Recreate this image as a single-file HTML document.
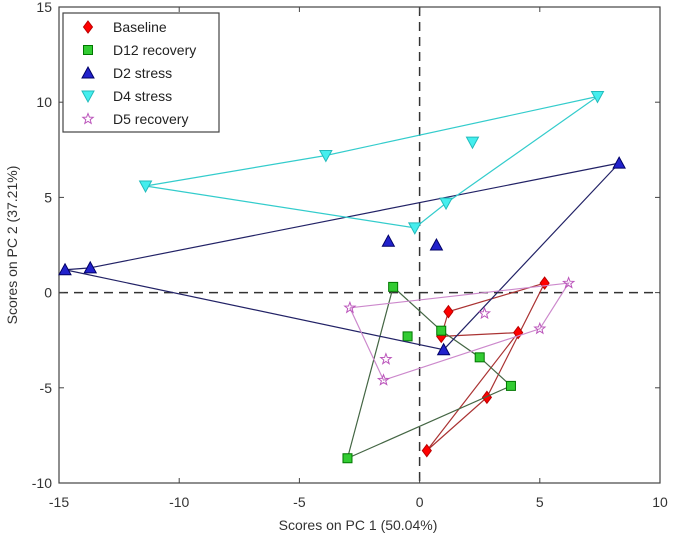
<!DOCTYPE html>
<html><head><meta charset="utf-8"><style>
body{margin:0;background:#fff;}
svg{display:block;font-family:"Liberation Sans",sans-serif;}
</style></head><body>
<svg id="chart" width="675" height="545"></svg>
<script>
const xTicks=[-15,-10,-5,0,5,10];
const yTicks=[-10,-5,0,5,10,15];
const seriesNames=["Baseline","D12 recovery","D2 stress","D4 stress","D5 recovery"];
const baselineX=[0.9,1.2,5.2,2.8,0.3,4.1];
const baselineY=[-2.3,-1.0,0.5,-5.5,-8.3,-2.1];
const d12X=[-3.0,-1.1,0.9,2.5,3.8,-0.5];
const d12Y=[-8.7,0.3,-2.0,-3.4,-4.9,-2.3];
const d2X=[-13.7,8.3,1.0,-14.75,-1.3,0.7];
const d2Y=[1.3,6.8,-3.0,1.2,2.7,2.5];
const d4X=[-11.4,-3.9,7.4,1.1,-0.2,2.2];
const d4Y=[5.6,7.2,10.3,4.7,3.4,7.9];
const d5X=[-2.9,-1.5,5.0,6.2,2.7,-1.4];
const d5Y=[-0.8,-4.6,-1.9,0.5,-1.1,-3.5];

const L=59,R=660,T=7,B=483;
const sx=v=>L+(v+15)*(R-L)/25;
const sy=v=>B-(v+10)*(B-T)/25;
const svg=document.getElementById('chart');
const NS='http://www.w3.org/2000/svg';
function mk(tag,attrs,parent){const e=document.createElementNS(NS,tag);for(const k in attrs)e.setAttribute(k,attrs[k]);(parent||svg).appendChild(e);return e;}

let zl=mk('line',{x1:L,x2:R,y1:sy(0),y2:sy(0),stroke:'#333','stroke-width':1.5,'stroke-dasharray':'9,6'});


zl=mk('line',{x1:sx(0),x2:sx(0),y1:T,y2:B,stroke:'#333','stroke-width':1.5,'stroke-dasharray':'9,6'});



let fr=mk('rect',{x:L,y:T,width:R-L,height:B-T,fill:'none',stroke:'#444','stroke-width':1.2});



xTicks.forEach(v=>{
  mk('line',{x1:sx(v),x2:sx(v),y1:B,y2:B-5,stroke:'#444'});
  mk('line',{x1:sx(v),x2:sx(v),y1:T,y2:T+5,stroke:'#444'});
  const t=mk('text',{x:sx(v),y:507,'text-anchor':'middle','font-size':14,fill:'#333'});
  t.textContent=v;
  
  
});
yTicks.forEach(v=>{
  mk('line',{x1:L,x2:L+5,y1:sy(v),y2:sy(v),stroke:'#444'});
  mk('line',{x1:R,x2:R-5,y1:sy(v),y2:sy(v),stroke:'#444'});
  const t=mk('text',{x:52,y:sy(v)+5,'text-anchor':'end','font-size':14,fill:'#333'});
  t.textContent=v;
  
  
});
let xt=mk('text',{x:358,y:530,'text-anchor':'middle','font-size':14,fill:'#333'});
xt.textContent='Scores on PC 1 (50.04%)';


let yt=mk('text',{x:0,y:0,'text-anchor':'middle','font-size':14,fill:'#333',transform:'translate(17,245) rotate(-90)'});
yt.textContent='Scores on PC 2 (37.21%)';



function marker(type,x,y,g){
  if(type==='diamond')mk('polygon',{points:`${x},${y-6} ${x+4.5},${y} ${x},${y+6} ${x-4.5},${y}`,fill:'#f00',stroke:'#b00'},g);
  else if(type==='square')mk('rect',{x:x-4.5,y:y-4.5,width:9,height:9,fill:'#3c3',stroke:'#070'},g);
  else if(type==='up')mk('polygon',{points:`${x},${y-6} ${x+6},${y+5} ${x-6},${y+5}`,fill:'#22c',stroke:'#006'},g);
  else if(type==='down')mk('polygon',{points:`${x-6},${y-5} ${x+6},${y-5} ${x},${y+6}`,fill:'#4ee',stroke:'#2bb'},g);
  else{let p=[];for(let i=0;i<10;i++){const r=i%2?2.3:5.5,a=-Math.PI/2+i*Math.PI/5;p.push((x+r*Math.cos(a)).toFixed(1)+','+(y+r*Math.sin(a)).toFixed(1));}
    mk('polygon',{points:p.join(' '),fill:'none',stroke:'#b5b'},g);}
}
const series=[
 {n:'baseline',xs:baselineX,ys:baselineY,path:[0,1,2,3,4,5,0],line:'#a33',m:'diamond'},
 {n:'d12-recovery',xs:d12X,ys:d12Y,path:[0,1,2,3,4,0],line:'#464',m:'square'},
 {n:'d2-stress',xs:d2X,ys:d2Y,path:[0,1,2,3,0],line:'#226',m:'up'},
 {n:'d4-stress',xs:d4X,ys:d4Y,path:[0,1,2,3,4,0],line:'#3cc',m:'down'},
 {n:'d5-recovery',xs:d5X,ys:d5Y,path:[0,1,2,3,0],line:'#c8c',m:'star'}
];
series.forEach(s=>{
  const g=mk('g',{});
  
  
  mk('polyline',{points:s.path.map(i=>sx(s.xs[i])+','+sy(s.ys[i])).join(' '),fill:'none',stroke:s.line,'stroke-width':1.2},g);
  s.xs.forEach((v,i)=>marker(s.m,sx(v),sy(s.ys[i]),g));
});

const lg=mk('g',{});


mk('rect',{x:63,y:13,width:156,height:119,fill:'#fff',stroke:'#444','stroke-width':1.2},lg);
series.forEach((s,i)=>{
  const y=27+i*23;
  const e=mk('g',{},lg);
  
  
  marker(s.m,88,y,e);
  const t=mk('text',{x:113,y:y+5,'font-size':14,fill:'#222'},e);
  t.textContent=seriesNames[i];
});
</script>
</body></html>
